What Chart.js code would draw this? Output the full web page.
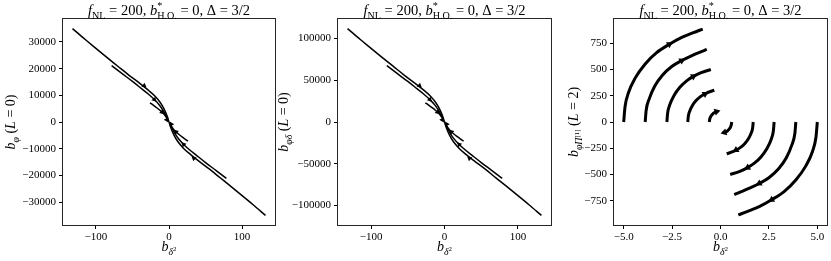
<!DOCTYPE html>
<html>
<head>
<meta charset="utf-8">
<script src="https://cdn.jsdelivr.net/npm/chart.js@4.4.0/dist/chart.umd.min.js"></script>
<style>
  body { margin: 0; background: #fff; }
  #wrap { position: relative; width: 831px; height: 261px; }
  canvas { position: absolute; top: 0; }
</style>
</head>
<body>
<div id="wrap">
  <canvas id="c1" width="280" height="261" style="left:0px"></canvas>
  <canvas id="c2" width="284" height="261" style="left:272px"></canvas>
  <canvas id="c3" width="275" height="261" style="left:556px"></canvas>
</div>
<script>
// ---- panel 1 : b_phi (L=0) vs b_delta^2
const p1MainUL = [[-132,35000],[-115,31000],[-100,27600],[-85,24200],[-70,20900],[-55,17600],[-40,14500],[-30,12300],[-20,9900],[-12,7300],[-7,5000],[-3,2500],[0,0]];
const p1MainLR = [[0,0],[3,-2500],[7,-5000],[12,-7300],[20,-9900],[30,-12300],[40,-14500],[55,-17600],[70,-20900],[85,-24200],[100,-27600],[115,-31000],[132,-35000]];
const p1MidUL = [[-78.5,21150],[-65,18300],[-50,15200],[-38,12600],[-28,10400],[-20,8400],[-13,6300],[-8,4300],[-4,2200],[-1,500]];
const p1MidLR = [[1,-500],[4,-2200],[8,-4300],[13,-6300],[20,-8400],[28,-10400],[38,-12600],[50,-15200],[65,-18300],[78.5,-21150]];
const p1ShortUL = [[-26,7200],[-18,5600],[-12,4300],[-7,3000],[-3,1500]];
const p1ShortLR = [[3,-1500],[7,-3000],[12,-4300],[18,-5600],[26,-7200]];
const p1Arrows = [[-34,13600],[-20,8400],[-9.5,3650],[-3,800],[34,-13600],[20,-8400],[9.5,-3650],[3,-800]];
const p1XTicks = [-100, 0, 100];
const p1YTicks = [-30000, -20000, -10000, 0, 10000, 20000, 30000];

// ---- panel 2 : b_phidelta (L=0) vs b_delta^2
const p2MainUL = [[-132,112000],[-115,99200],[-100,88300],[-85,77400],[-70,66900],[-55,56300],[-40,46400],[-30,39400],[-20,31700],[-12,23400],[-7,16000],[-3,8000],[0,0]];
const p2MainLR = [[0,0],[3,-8000],[7,-16000],[12,-23400],[20,-31700],[30,-39400],[40,-46400],[55,-56300],[70,-66900],[85,-77400],[100,-88300],[115,-99200],[132,-112000]];
const p2MidUL = [[-78.5,67700],[-65,58600],[-50,48600],[-38,40300],[-28,33300],[-20,26900],[-13,20200],[-8,13800],[-4,7000],[-1,1600]];
const p2MidLR = [[1,-1600],[4,-7000],[8,-13800],[13,-20200],[20,-26900],[28,-33300],[38,-40300],[50,-48600],[65,-58600],[78.5,-67700]];
const p2ShortUL = [[-26,23000],[-18,17900],[-12,13800],[-7,9600],[-3,4800]];
const p2ShortLR = [[3,-4800],[7,-9600],[12,-13800],[18,-17900],[26,-23000]];
const p2Arrows = [[-34,43500],[-20,26900],[-9.5,11700],[-3,2600],[34,-43500],[20,-26900],[9.5,-11700],[3,-2600]];
const p2XTicks = [-100, 0, 100];
const p2YTicks = [-100000, -50000, 0, 50000, 100000];

// ---- panel 3 : b_phiPi[1] (L=2) vs b_delta^2
const arc1UL = [[-5.00,0],[-4.93,145],[-4.75,280],[-4.40,420],[-3.90,550],[-3.30,660],[-2.64,740],[-2.00,805],[-1.40,850],[-0.92,884]];
const arc2UL = [[-3.89,0],[-3.84,110],[-3.68,220],[-3.40,340],[-3.00,445],[-2.50,530],[-2.00,585],[-1.50,630],[-1.05,665],[-0.71,690]];
const arc3UL = [[-2.77,0],[-2.73,85],[-2.61,168],[-2.40,252],[-2.10,330],[-1.75,392],[-1.40,434],[-1.00,470],[-0.50,500]];
const arc4UL = [[-1.69,0],[-1.66,57],[-1.58,107],[-1.45,157],[-1.25,206],[-1.00,246],[-0.70,278],[-0.32,302]];
const arc5UL = [[-0.58,0],[-0.55,32],[-0.48,60],[-0.38,81],[-0.26,95],[-0.14,102]];
const arc1LR = [[0.92,-884],[1.40,-850],[2.00,-805],[2.64,-740],[3.30,-660],[3.90,-550],[4.40,-420],[4.75,-280],[4.93,-145],[5.00,0]];
const arc2LR = [[0.71,-690],[1.05,-665],[1.50,-630],[2.00,-585],[2.50,-530],[3.00,-445],[3.40,-340],[3.68,-220],[3.84,-110],[3.89,0]];
const arc3LR = [[0.50,-500],[1.00,-470],[1.40,-434],[1.75,-392],[2.10,-330],[2.40,-252],[2.61,-168],[2.73,-85],[2.77,0]];
const arc4LR = [[0.32,-302],[0.70,-278],[1.00,-246],[1.25,-206],[1.45,-157],[1.58,-107],[1.66,-57],[1.69,0]];
const arc5LR = [[0.14,-102],[0.26,-95],[0.38,-81],[0.48,-60],[0.55,-32],[0.58,0]];
const p3Arrows = [[-2.64,740],[-2.00,585],[-1.40,434],[-0.80,267],[-0.20,99],[2.64,-740],[2.00,-585],[1.40,-434],[0.80,-267],[0.20,-99]];
const p3XTicks = [-5, -2.5, 0, 2.5, 5];
const p3YTicks = [-750, -500, -250, 0, 250, 500, 750];

const FONT = '"Liberation Serif", "DejaVu Serif", serif';

function drawRich(ctx, parts, x, y, size, angle) {
  const font = p => (p.i ? 'italic ' : '') + (size * (p.s || 1)) + 'px ' + FONT;
  let total = 0;
  parts.forEach(p => {
    ctx.font = font(p);
    p.w = ctx.measureText(p.t).width;
    if (!p.keep) total += p.w;
  });
  ctx.save();
  ctx.translate(x, y);
  ctx.rotate(angle);
  ctx.fillStyle = '#000';
  ctx.textAlign = 'left';
  ctx.textBaseline = 'alphabetic';
  let cx = -total / 2;
  parts.forEach(p => {
    ctx.font = font(p);
    ctx.fillText(p.t, cx, (p.dy || 0) * size);
    if (!p.keep) cx += p.w;
  });
  ctx.restore();
}

const titleParts = [{t:'f',i:1},{t:'NL',s:.7,dy:.25},{t:' = 200, '},{t:'b',i:1},{t:'*',s:.7,dy:-.4,keep:1},{t:'H.O.',s:.7,dy:.3},{t:' = 0, Δ = 3/2'}];
const xLabelParts = [{t:'b',i:1},{t:'δ',i:1,s:.7,dy:.25},{t:'2',s:.5,dy:-.02}];

const frame = {
  id: 'frame',
  afterDraw(chart, args, o) {
    const {ctx, chartArea: a} = chart;
    ctx.save();
    ctx.strokeStyle = '#262626';
    ctx.lineWidth = 1;
    ctx.strokeRect(Math.round(a.left) - 0.5, Math.round(a.top) - 0.5,
                   Math.round(a.right - a.left) + 1, Math.round(a.bottom - a.top) + 1);
    ctx.restore();
    const cx = (a.left + a.right) / 2, cy = (a.top + a.bottom) / 2;
    drawRich(ctx, titleParts, cx, 15, 14.5, 0);
    drawRich(ctx, xLabelParts, cx, 251, 14, 0);
    drawRich(ctx, o.yLabel, a.left - o.yGap, cy, 14, -Math.PI / 2);
  }
};

const minus = s => String(s).replace('-', '\u2212');

function makeChart(id, curves, arrows, cfg) {
  const datasets = curves.map(c => ({
    data: c.map(p => ({x: p[0], y: p[1]})),
    showLine: true,
    borderColor: '#000',
    borderWidth: cfg.lw,
    pointRadius: 0,
    cubicInterpolationMode: 'monotone',
    fill: false
  }));
  datasets.push({
    data: arrows.map(p => ({x: p[0], y: p[1]})),
    showLine: false,
    pointStyle: 'triangle',
    pointRadius: cfg.arrowR,
    pointRotation: cfg.rot,
    backgroundColor: '#000',
    borderColor: '#000',
    borderWidth: 0
  });
  const tickFont = {family: FONT, size: 11};
  return new Chart(document.getElementById(id), {
    type: 'scatter',
    data: {datasets},
    plugins: [frame],
    options: {
      responsive: false,
      animation: false,
      events: [],
      layout: {padding: {left: 0, right: cfg.padR, top: 19, bottom: 0}},
      plugins: {
        legend: {display: false},
        tooltip: {enabled: false},
        title: {display: false},
        frame: {yLabel: cfg.yLabel, yGap: cfg.yGap}
      },
      scales: {
        x: {
          type: 'linear', min: cfg.xMin, max: cfg.xMax,
          afterBuildTicks: s => { s.ticks = cfg.xTicks.map(v => ({value: v})); },
          afterFit: s => { s.height = 36; },
          grid: {drawOnChartArea: false, drawTicks: true, tickLength: 4, color: '#000'},
          border: {display: false},
          ticks: {font: tickFont, color: '#000', padding: 2, maxRotation: 0, autoSkip: false, callback: cfg.xFmt}
        },
        y: {
          type: 'linear', min: cfg.yMin, max: cfg.yMax,
          afterBuildTicks: s => { s.ticks = cfg.yTicks.map(v => ({value: v})); },
          afterFit: s => { s.width = cfg.yW; },
          grid: {drawOnChartArea: false, drawTicks: true, tickLength: 4, color: '#000'},
          border: {display: false},
          ticks: {font: tickFont, color: '#000', padding: 3, autoSkip: false, callback: cfg.yFmt}
        }
      }
    }
  });
}

const flowRot = [129, 137, 134, 150, 309, 317, 314, 330];

makeChart('c1', [p1MainUL, p1MainLR, p1MidUL, p1MidLR, p1ShortUL, p1ShortLR], p1Arrows, {
  lw: 1.5, arrowR: 3, rot: flowRot, padR: 5, yW: 63,
  xMin: -145, xMax: 145, yMin: -38600, yMax: 38600,
  xTicks: p1XTicks, yTicks: p1YTicks,
  xFmt: v => minus(v), yFmt: v => minus(v),
  yLabel: [{t:'b',i:1},{t:'φ',i:1,s:.7,dy:.25},{t:' ('},{t:'L',i:1},{t:' = 0)'}],
  yGap: 48
});

makeChart('c2', [p2MainUL, p2MainLR, p2MidUL, p2MidLR, p2ShortUL, p2ShortLR], p2Arrows, {
  lw: 1.5, arrowR: 3, rot: flowRot, padR: 5, yW: 66,
  xMin: -145, xMax: 145, yMin: -123500, yMax: 123500,
  xTicks: p2XTicks, yTicks: p2YTicks,
  xFmt: v => minus(v), yFmt: v => minus(v),
  yLabel: [{t:'b',i:1},{t:'φδ',i:1,s:.7,dy:.25},{t:' ('},{t:'L',i:1},{t:' = 0)'}],
  yGap: 50
});

makeChart('c3', [arc1UL, arc2UL, arc3UL, arc4UL, arc5UL, arc1LR, arc2LR, arc3LR, arc4LR, arc5LR], p3Arrows, {
  lw: 3, arrowR: 4, rot: [59, 62, 61, 59, 73, 239, 242, 241, 239, 253], padR: 4, yW: 58,
  xMin: -5.5, xMax: 5.5, yMin: -980, yMax: 980,
  xTicks: p3XTicks, yTicks: p3YTicks,
  xFmt: v => minus(v.toFixed(1)), yFmt: v => minus(v),
  yLabel: [{t:'b',i:1},{t:'φΠ',i:1,s:.7,dy:.25},{t:'[1]',s:.5,dy:.1},{t:' ('},{t:'L',i:1},{t:' = 2)'}],
  yGap: 36
});
</script>
</body>
</html>
